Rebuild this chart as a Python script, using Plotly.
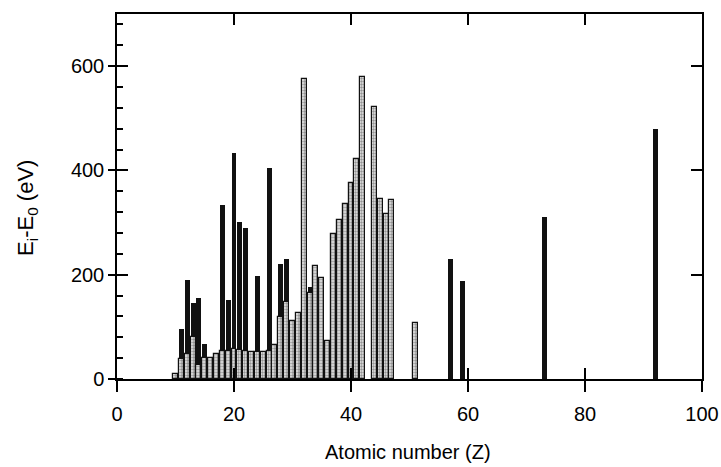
import plotly.graph_objects as go

# Black bars (E_i - E_0, eV) by atomic number
z_black = [11, 12, 13, 14, 15, 18, 19, 20, 21, 22, 24, 26, 28, 29, 33, 57, 59, 73, 92]
e_black = [96, 189, 146, 156, 67, 333, 152, 433, 301, 290, 198, 404, 220, 230, 177, 230, 188, 310, 480]

# Hatched bars by atomic number
z_hatch = [10, 11, 12, 13, 14, 15, 16, 17, 18, 19, 20, 21, 22, 23, 24, 25, 26, 27, 28, 29,
           30, 31, 32, 33, 34, 35, 36, 37, 38, 39, 40, 41, 42, 44, 45, 46, 47, 51]
e_hatch = [9, 39, 47, 80, 27, 40, 40, 47, 54, 54, 57, 56, 53, 52, 52, 51, 54, 65, 118, 148,
           111, 126, 576, 165, 216, 193, 73, 279, 304, 335, 376, 421, 579, 521, 346, 316, 344, 107]

x_ticks = [0, 20, 40, 60, 80, 100]
y_ticks = [0, 200, 400, 600]

FONT = "Liberation Sans, Arial, sans-serif"

fig = go.Figure()
fig.add_trace(go.Bar(x=z_black, y=e_black, width=0.85,
                     marker=dict(color="#111111", line=dict(width=0)),
                     showlegend=False))
fig.add_trace(go.Bar(x=z_hatch, y=e_hatch, width=0.85,
                     marker=dict(color="white",
                                 line=dict(color="#111111", width=1.2),
                                 pattern=dict(shape=".", fgcolor="#444444", bgcolor="#e6e6e6",
                                              size=3, solidity=0.5)),
                     showlegend=False))

axis_common = dict(showgrid=False, zeroline=False, linecolor="black", linewidth=1.5,
                   tickcolor="black", tickwidth=1.5, automargin=False)

fig.update_layout(
    width=721, height=467,
    margin=dict(l=117, r=19, t=14, b=88),
    paper_bgcolor="white", plot_bgcolor="white",
    barmode="overlay", bargap=0,
    font=dict(family=FONT, size=20, color="black"),
    xaxis=dict(range=[0, 100], tickvals=x_ticks, ticks="outside", ticklen=11,
               showline=True, mirror=False, ticklabelstandoff=5,
               tickfont=dict(family=FONT, size=20, color="black"), **axis_common),
    xaxis2=dict(range=[0, 100], tickvals=x_ticks, ticks="inside", ticklen=11,
                overlaying="x", side="bottom", anchor="y", showticklabels=False,
                showline=True, mirror="ticks", **axis_common),
    yaxis=dict(range=[0, 700], tickvals=y_ticks, ticks="outside", ticklen=7,
               showline=True, mirror=False,
               tickfont=dict(family=FONT, size=20, color="black"),
               minor=dict(dtick=40, tick0=0, ticks="inside", ticklen=6,
                          tickcolor="black", tickwidth=1.5),
               **axis_common),
    yaxis2=dict(range=[0, 700], tickvals=y_ticks, ticks="inside", ticklen=11,
                overlaying="y", side="left", anchor="x", showticklabels=False,
                showline=True, mirror="ticks", **axis_common),
)

# invisible trace to activate overlay axes
fig.add_trace(go.Scatter(x=[None], y=[None], xaxis="x2", yaxis="y2",
                         showlegend=False, hoverinfo="skip"))

fig.add_annotation(text="Atomic number (Z)", xref="paper", yref="paper",
                   x=0.497, y=-0.2, xanchor="center", yanchor="middle",
                   showarrow=False, font=dict(family=FONT, size=20, color="black"))
fig.add_annotation(text="E<sub>i</sub>-E<sub>0</sub> (eV)", xref="paper", yref="paper",
                   x=-0.153, y=0.47, xanchor="center", yanchor="middle",
                   textangle=-90, showarrow=False, font=dict(family=FONT, size=22, color="black"))

fig.write_html("out.html")
